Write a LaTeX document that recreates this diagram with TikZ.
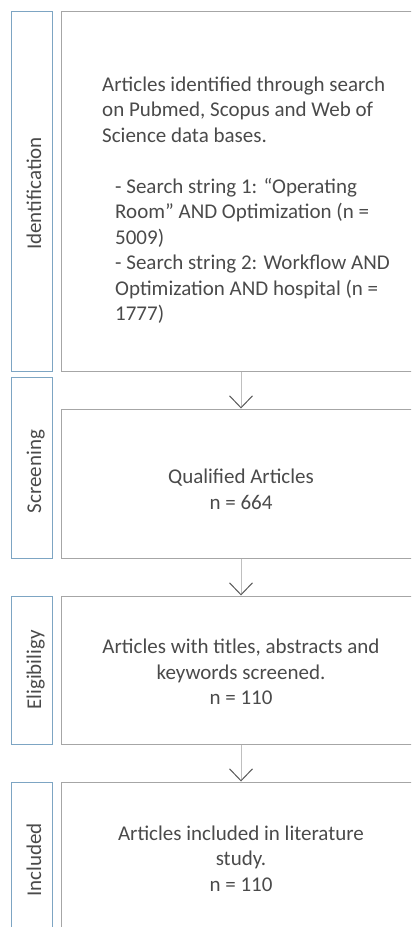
\documentclass[tikz,border=0pt]{standalone}
\usepackage{fontspec}
\setmainfont{Carlito}
\usetikzlibrary{arrows.meta}
\definecolor{boxgray}{HTML}{A6A6A6}
\definecolor{sideblue}{HTML}{7DA5C3}
\definecolor{txtgray}{HTML}{4A4A4A}
\definecolor{shaftgray}{HTML}{BFBFBF}
\definecolor{tipgray}{HTML}{595959}
\tikzset{
  mainbox/.style={draw=boxgray, line width=1bp, rectangle, inner sep=0pt, minimum width=358bp},
  sidebox/.style={draw=sideblue, line width=1bp, rectangle, inner sep=0pt, minimum width=40bp},
  sidelabel/.style={rotate=90, anchor=base, inner sep=0pt, text=txtgray, font=\fontsize{21bp}{25.5bp}\selectfont},
  bodytext/.style={inner sep=0pt, text=txtgray, font=\fontsize{21bp}{25.5bp}\selectfont},
  flowarrow/.style={draw=shaftgray, line width=1bp, -{Straight Barb[length=12bp,width=23bp,color=tipgray]}}
}
\begin{document}
\begin{tikzpicture}[x=1bp,y=-1bp]
\useasboundingbox (0,0) rectangle (411,927);
\clip (0,0) rectangle (411,927);
% main boxes
\node[mainbox, minimum height=359bp] (m1) at (241,191.5) {};
\node[mainbox, minimum height=149bp] (m2) at (241,483.5) {};
\node[mainbox, minimum height=148bp] (m3) at (241,670) {};
\node[mainbox, minimum height=170bp] (m4) at (241,867) {};
% side boxes
\node[sidebox, minimum height=359bp] (s1) at (32,191.5) {};
\node[sidebox, minimum height=181bp] (s2) at (32,467.5) {};
\node[sidebox, minimum height=148bp] (s3) at (32,670) {};
\node[sidebox, minimum height=170bp] (s4) at (32,867) {};
% side labels
\node[sidelabel] (l1) at (41,193.5) {Identification};
\node[sidelabel] (l2) at (41,471.5) {Screening};
\node[sidelabel] (l3) at (41,670) {Eligibiligy};
\node[sidelabel] (l4) at (41,860) {Included};
% texts
\node[bodytext, anchor=base west] (t1) at (102,91) {\parbox[t]{305bp}{\raggedright
Articles identified through search\\
on Pubmed, Scopus and Web of\\
Science data bases.\\[25.5bp]
\hspace*{13bp}- Search string 1: “Operating\\
\hspace*{13bp}Room” AND Optimization (n =\\
\hspace*{13bp}5009)\\
\hspace*{13bp}- Search string 2: Workflow AND\\
\hspace*{13bp}Optimization AND hospital (n =\\
\hspace*{13bp}1777)}};
\node[bodytext, anchor=base] (t2) at (241,483.5) {\parbox[t]{300bp}{\centering
Qualified Articles\\
n = 664}};
\node[bodytext, anchor=base] (t3) at (241,653.5) {\parbox[t]{300bp}{\centering
Articles with titles, abstracts and\\
keywords screened.\\
n = 110}};
\node[bodytext, anchor=base] (t4) at (241,840) {\parbox[t]{300bp}{\centering
Articles included in literature\\
study.\\
n = 110}};
% arrows
\draw[flowarrow] (m1.south) -- (m2.north);
\draw[flowarrow] (m2.south) -- (m3.north);
\draw[flowarrow] (m3.south) -- (m4.north);
\end{tikzpicture}
\end{document}
